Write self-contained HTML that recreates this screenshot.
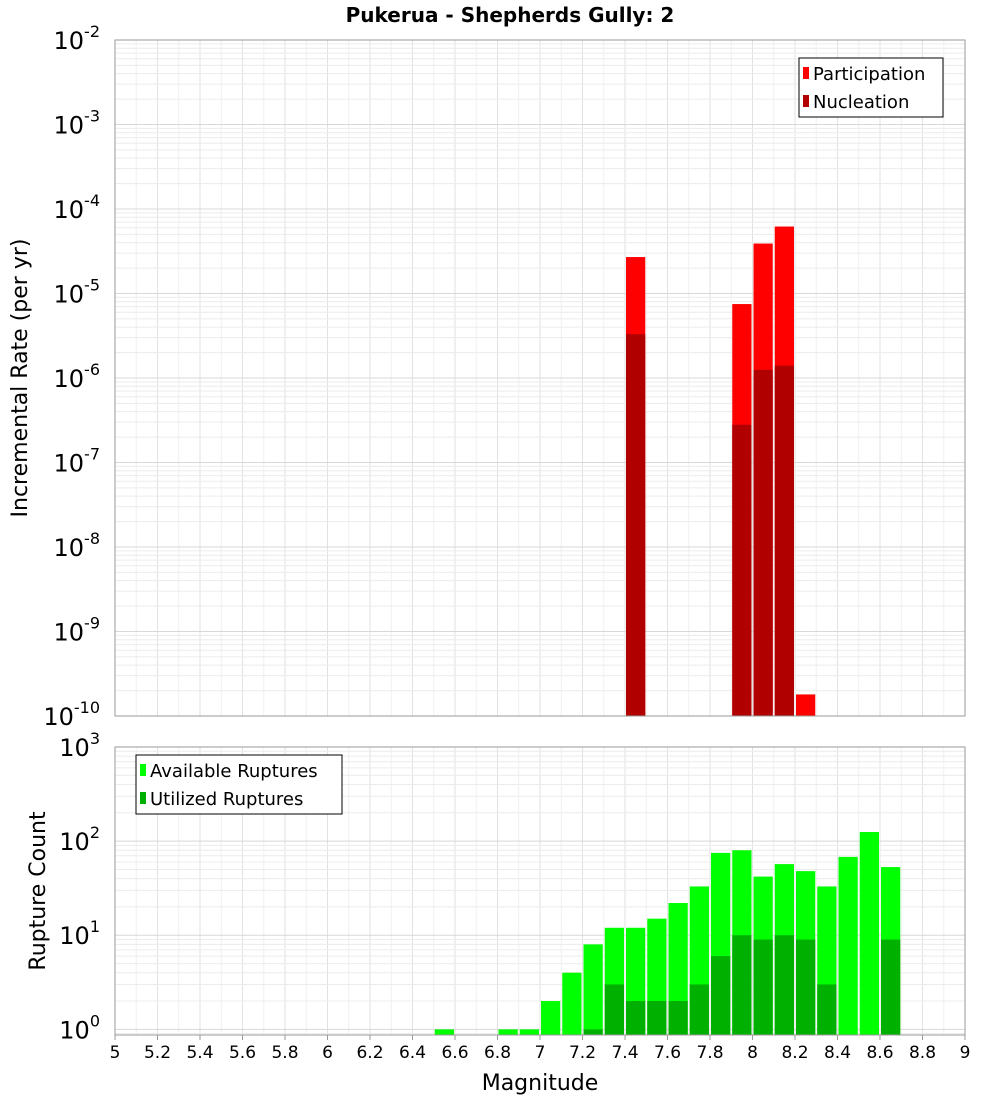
<!DOCTYPE html>
<html><head><meta charset="utf-8"><style>
body{margin:0;background:#fff;font-family:"Liberation Sans","DejaVu Sans",sans-serif}
svg text{font-family:"DejaVu Sans","Liberation Sans",sans-serif}
</style></head><body>
<svg id="c" width="1000" height="1100" xmlns="http://www.w3.org/2000/svg">
<text x="510" y="22" text-anchor="middle" font-size="20" font-weight="bold">Pukerua - Shepherds Gully: 2</text>
<g id="gtop"></g><g id="gbot"></g><g id="gxax"></g>
<text transform="translate(27,378) rotate(-90)" text-anchor="middle" font-size="22">Incremental Rate (per yr)</text>
<text transform="translate(45,891) rotate(-90)" text-anchor="middle" font-size="22">Rupture Count</text>
<text x="540" y="1090" text-anchor="middle" font-size="22">Magnitude</text>
<g>
<rect x="799" y="58" width="144" height="59" fill="#fff" stroke="#000"/>
<rect x="803" y="67" width="6" height="12" fill="#ff0000"/>
<text x="813" y="80" font-size="18">Participation</text>
<rect x="803" y="95" width="6" height="12" fill="#b00000"/>
<text x="813" y="108" font-size="18">Nucleation</text>
</g>
<g>
<rect x="136" y="755" width="206" height="59" fill="#fff" stroke="#000"/>
<rect x="140" y="764" width="6" height="12" fill="#00ff00"/>
<text x="150" y="777" font-size="18">Available Ruptures</text>
<rect x="140" y="792" width="6" height="12" fill="#00b000"/>
<text x="150" y="805" font-size="18">Utilized Ruptures</text>
</g>
</svg>
<script>
const xTicks=["5","5.2","5.4","5.6","5.8","6","6.2","6.4","6.6","6.8","7","7.2","7.4","7.6","7.8","8","8.2","8.4","8.6","8.8","9"];
const partMags=[7.4,7.9,8.0,8.1,8.2];
const partVals=[2.7e-5,7.5e-6,3.9e-5,6.2e-5,1.8e-10];
const nuclMags=[7.4,7.9,8.0,8.1];
const nuclVals=[3.3e-6,2.8e-7,1.25e-6,1.4e-6];
const availMags=[6.5,6.8,6.9,7.0,7.1,7.2,7.3,7.4,7.5,7.6,7.7,7.8,7.9,8.0,8.1,8.2,8.3,8.4,8.5,8.6];
const availVals=[1,1,1,2,4,8,12,12,15,22,33,75,80,42,57,48,33,68,125,53];
const utilMags=[7.2,7.3,7.4,7.5,7.6,7.7,7.8,7.9,8.0,8.1,8.2,8.3,8.6];
const utilVals=[1,3,2,2,2,3,6,10,9,10,9,3,9];

const NS="http://www.w3.org/2000/svg";
const X0=115,X1=965,xmin=5,xmax=9;
const xS=m=>X0+(m-xmin)/(xmax-xmin)*(X1-X0);
const PT={y0:40,y1:716,lmin:-10,lmax:-2};
const PB={y0:747,y1:1035,lmin:-0.06,lmax:3};
const yS=(p,v)=>{let l=Math.log10(v);l=Math.max(l,p.lmin);return p.y1-(l-p.lmin)/(p.lmax-p.lmin)*(p.y1-p.y0);};
function el(g,tag,a){const e=document.createElementNS(NS,tag);for(const k in a)e.setAttribute(k,a[k]);g.appendChild(e);return e;}
function panel(g,p){
  el(g,'rect',{x:X0,y:p.y0,width:X1-X0,height:p.y1-p.y0,fill:'#fff'});
  for(let i=0;i<=40;i++){const x=xS(xmin+i*0.1);el(g,'line',{x1:x,x2:x,y1:p.y0,y2:p.y1,stroke:i%2?'#f0f0f0':'#e2e2e2','stroke-width':1});}
  for(let d=Math.floor(p.lmin);d<p.lmax;d++){for(let k=1;k<10;k++){const l=d+Math.log10(k);if(l<p.lmin||l>p.lmax)continue;const y=yS(p,Math.pow(10,l));el(g,'line',{x1:X0,x2:X1,y1:y,y2:y,stroke:k==1?'#d8d8d8':'#ececec','stroke-width':1});}}
}
function ylabels(g,p,decs){decs.forEach(d=>{const y=yS(p,Math.pow(10,d));const t=el(g,'text',{x:100,y:y+9,'text-anchor':'end','font-size':24});


t.textContent='10';const s=el(t,'tspan',{dy:-12,'font-size':16});s.textContent=String(d);});}
function bars(g,p,mags,vals,color,name){mags.forEach((m,i)=>{const x=xS(m)+1,w=xS(m+0.1)-xS(m)-2;const y=yS(p,vals[i]);
const r=el(g,'rect',{x:x,y:y,width:w,height:p.y1-y,fill:color});

});}
const gTop=document.getElementById('gtop'),gBot=document.getElementById('gbot'),gX=document.getElementById('gxax');
panel(gTop,PT);panel(gBot,PB);
bars(gTop,PT,partMags,partVals,'#ff0000','bar-participation');
bars(gTop,PT,nuclMags,nuclVals,'#b00000','bar-nucleation');
bars(gBot,PB,availMags,availVals,'#00ff00','bar-available');
bars(gBot,PB,utilMags,utilVals,'#00b000','bar-utilized');
el(gTop,'rect',{x:X0,y:PT.y0,width:X1-X0,height:PT.y1-PT.y0,fill:'none',stroke:'#999'});
el(gBot,'rect',{x:X0,y:PB.y0,width:X1-X0,height:PB.y1-PB.y0,fill:'none',stroke:'#999'});
ylabels(gTop,PT,[-2,-3,-4,-5,-6,-7,-8,-9,-10]);
ylabels(gBot,PB,[3,2,1,0]);
xTicks.forEach(s=>{const x=xS(parseFloat(s));el(gX,'line',{x1:x,x2:x,y1:1035,y2:1040,stroke:'#999'});
const t=el(gX,'text',{x:x,y:1058,'text-anchor':'middle','font-size':17});


t.textContent=s;});
</script>
</body></html>
